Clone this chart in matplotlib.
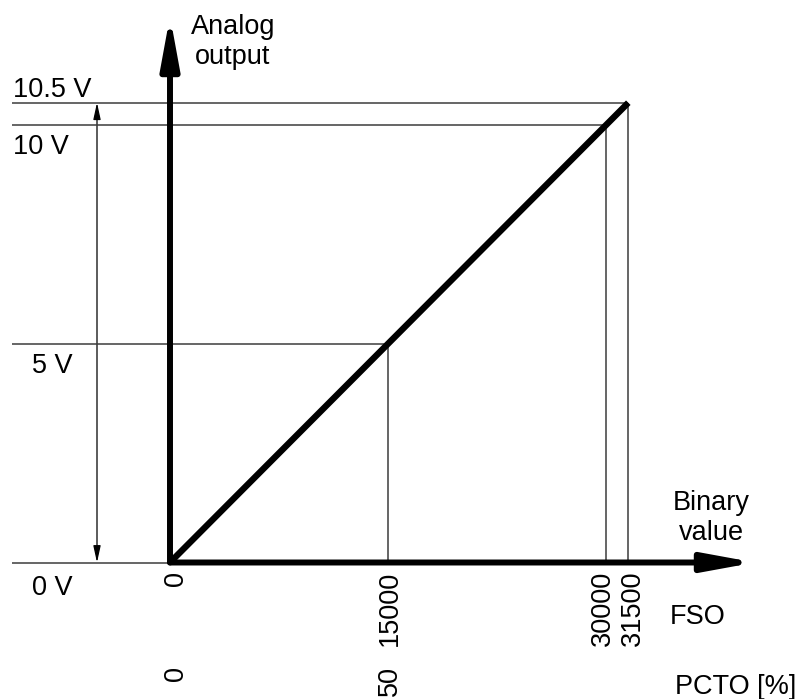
import matplotlib
matplotlib.use("Agg")
import matplotlib.pyplot as plt
from matplotlib.patches import FancyArrowPatch

plt.rcParams['font.family'] = ['Liberation Sans', 'DejaVu Sans']

# Transfer characteristic of the analog output
voltages = [0, 5, 10, 10.5]               # V
fso_values = [0, 15000, 30000, 31500]      # binary value
volt_labels = ["0 V", "5 V", "10 V", "10.5 V"]
fso_labels = ["0", "15000", "30000", "31500"]
pcto_values = [0, 50]
pcto_labels = ["0", "50"]

W, H = 808, 699
fig = plt.figure(figsize=(W / 100, H / 100), dpi=100)
ax = fig.add_axes([0, 0, 1, 1])
ax.set_axis_off()

# pixel layout of the drawing: origin and scale
x0_px, y0_px = 170, 562.5
x_scale = (628.3 - x0_px) / fso_values[-1]
y_scale = (y0_px - 102.7) / voltages[-1]


def px2x(px):
    return (px - x0_px) / x_scale


def px2y(py):
    return (y0_px - py) / y_scale


ax.set_xlim(px2x(0), px2x(W))
ax.set_ylim(px2y(H), px2y(0))

fs = 19.5
line_kw = dict(color="#3c3c3c", lw=1.1, solid_capstyle="butt")
left = px2x(12)

# reference lines from each voltage level to its binary value
for v, b in zip(voltages, fso_values):
    ax.plot([left, b], [v, v], **line_kw)
    if b > 0:
        ax.plot([b, b], [0, v], **line_kw)

# characteristic line
ax.plot([fso_values[0], fso_values[-1]], [voltages[0], voltages[-1]],
        color="black", lw=4.6, solid_capstyle="butt", zorder=5)

# axes with arrow heads
axis_style = "-|>,head_length=30,head_width=5.5"
ax.add_patch(FancyArrowPatch((0, 0), (px2x(755), 0), arrowstyle=axis_style,
                             mutation_scale=1, lw=4.3, color="black",
                             shrinkA=0, shrinkB=0, zorder=6))
ax.add_patch(FancyArrowPatch((0, 0), (0, px2y(16)), arrowstyle=axis_style,
                             mutation_scale=1, lw=4.3, color="black",
                             shrinkA=0, shrinkB=0, zorder=6))

# dimension arrow for the full output range
dim_x = px2x(97)
ax.add_patch(FancyArrowPatch((dim_x, voltages[0]), (dim_x, voltages[-1]),
                             arrowstyle="<|-|>,head_length=10,head_width=2.2",
                             mutation_scale=1, lw=0.9, color="black",
                             shrinkA=0, shrinkB=0))

# voltage labels
volt_pos = {"0 V": (32, 595), "5 V": (32, 373), "10 V": (13, 154), "10.5 V": (13, 97)}
for lab in volt_labels:
    px, py = volt_pos[lab]
    ax.text(px2x(px), px2y(py), lab, fontsize=fs, ha="left", va="baseline")

# binary value labels (FSO row)
fso_offsets = [6, 1.5, -4, 5]
for b, lab, off in zip(fso_values, fso_labels, fso_offsets):
    ax.text(b + off / x_scale, px2y(571), lab, fontsize=fs, rotation=90,
            ha="center", va="top")
ax.text(px2x(670), px2y(624), "FSO", fontsize=fs, ha="left", va="baseline")

# percentage labels (PCTO row)
pcto_offsets = [6, 1.5]
for p, lab, off in zip(pcto_values, pcto_labels, pcto_offsets):
    b = p / 100 * fso_values[2]
    ax.text(b + off / x_scale, px2y(666), lab, fontsize=fs, rotation=90,
            ha="center", va="top")
ax.text(px2x(675), px2y(694), "PCTO [%]", fontsize=fs, ha="left", va="baseline")

# axis titles
ax.text(px2x(233), px2y(64), "Analog\noutput", fontsize=fs, ha="center",
        va="baseline", multialignment="center")
ax.text(px2x(711), px2y(540), "Binary\nvalue", fontsize=fs, ha="center",
        va="baseline", multialignment="center")

fig.savefig("out.png", dpi=100)
